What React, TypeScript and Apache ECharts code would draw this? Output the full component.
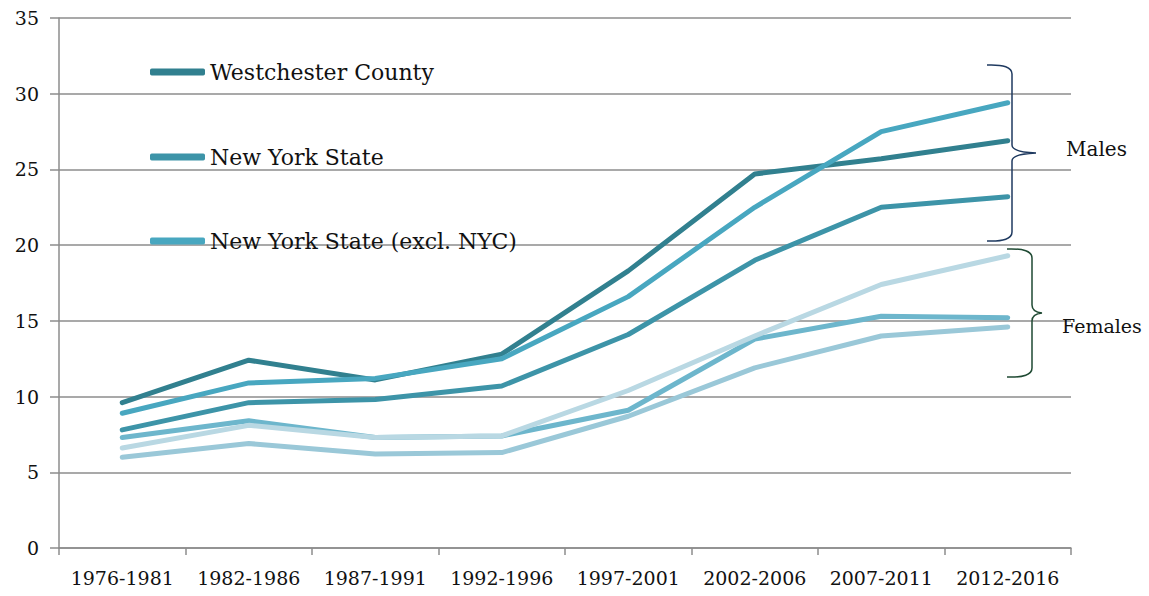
import React, { useEffect, useRef } from "react";
import * as echarts from "echarts";

const categories = ["1976-1981", "1982-1986", "1987-1991", "1992-1996", "1997-2001", "2002-2006", "2007-2011", "2012-2016"];
const westchesterMales = [9.6, 12.4, 11.1, 12.8, 18.3, 24.7, 25.7, 26.9];
const nysMales = [7.8, 9.6, 9.8, 10.7, 14.1, 19.0, 22.5, 23.2];
const nysExclNycMales = [8.9, 10.9, 11.2, 12.5, 16.6, 22.5, 27.5, 29.4];
const femalesA = [7.3, 8.4, 7.3, 7.4, 9.1, 13.8, 15.3, 15.2];
const femalesB = [6.6, 8.1, 7.3, 7.4, 10.4, 14.0, 17.4, 19.3];
const femalesC = [6.0, 6.9, 6.2, 6.3, 8.7, 11.9, 14.0, 14.6];
const legendNames = ["Westchester County", "New York State", "New York State (excl. NYC)"];

const FONT = "DejaVu Serif";

export default function App() {
  const ref = useRef<HTMLDivElement>(null);
  useEffect(() => {
    if (!ref.current) return;
    const malesBrace =
      "M987,65 Q1012,64 1012,74 L1012,145 Q1012,152 1036,153 Q1012,154 1012,161 L1012,232 Q1012,242 987,241";
    const femalesBrace =
      "M1007,249 Q1032,248 1032,258 L1032,305 Q1032,312 1042,313 Q1032,314 1032,321 L1032,368 Q1032,378 1007,377";
    echarts.graphic.registerShape("malesBrace", echarts.graphic.extendPath(malesBrace, {}) as any);
    echarts.graphic.registerShape("femalesBrace", echarts.graphic.extendPath(femalesBrace, {}) as any);

    const chart = echarts.init(ref.current, null, { renderer: "svg" });
    const mk = (name: string, data: number[], color: string) => ({
      name,
      type: "line",
      data,
      showSymbol: false,
      symbol: "none",
      lineStyle: { color, width: 5, cap: "round", join: "round" },
      itemStyle: { color },
      z: 3,
    });
    const colors = ["#31808f", "#3d94a8", "#48a7c0"];
    chart.setOption({
      animation: false,
      textStyle: { fontFamily: FONT },
      grid: { left: 59, right: 78, top: 18, bottom: 48, containLabel: false },
      legend: legendNames.map((n, i) => ({
        data: [{ name: n, icon: "roundRect" }],
        left: 145,
        top: [56, 141, 225][i],
        itemWidth: 55,
        itemHeight: 7,
        textStyle: { fontFamily: FONT, fontSize: 22, color: "#111" },
        selectedMode: false,
      })),
      xAxis: {
        type: "category",
        data: categories,
        boundaryGap: true,
        axisLine: { lineStyle: { color: "#8c8c8c", width: 1.5 } },
        axisTick: { show: true, length: 7, interval: 0, lineStyle: { color: "#8c8c8c", width: 1.5 } },
        axisLabel: { fontFamily: FONT, fontSize: 19, color: "#111", margin: 20, interval: 0 },
      },
      yAxis: {
        type: "value",
        min: 0,
        max: 35,
        interval: 5,
        axisLine: { show: true, lineStyle: { color: "#8c8c8c", width: 1.5 } },
        axisTick: { show: true, length: 9, lineStyle: { color: "#8c8c8c", width: 1.5 } },
        splitLine: { show: true, lineStyle: { color: "#8c8c8c", width: 1.5 } },
        axisLabel: { fontFamily: FONT, fontSize: 19, color: "#111", margin: 20 },
      },
      series: [
        mk("Females (C)", femalesC, "#9ac8d8"),
        mk("Females (A)", femalesA, "#6db6cc"),
        mk("Females (B)", femalesB, "#b9d8e3"),
        mk("New York State", nysMales, colors[1]),
        mk("Westchester County", westchesterMales, colors[0]),
        mk("New York State (excl. NYC)", nysExclNycMales, colors[2]),
      ],
      graphic: [
        { type: "malesBrace", x: 0, y: 0, style: { fill: "none", stroke: "#1f3a60", lineWidth: 1.5 }, z: 10 },
        { type: "femalesBrace", x: 0, y: 0, style: { fill: "none", stroke: "#1f4a33", lineWidth: 1.5 }, z: 10 },
        { type: "text", left: 1066, top: 139, style: { text: "Males", fontFamily: FONT, fontSize: 20, fill: "#111" }, z: 10 },
        { type: "text", left: 1062, top: 316, style: { text: "Females", fontFamily: FONT, fontSize: 19, fill: "#111" }, z: 10 },
      ],
    });
    return () => chart.dispose();
  }, []);
  return (
    <div
      ref={ref}
      style={{ position: "fixed", left: 0, top: 0, width: 1149, height: 596, background: "#fff" }}
    />
  );
}
